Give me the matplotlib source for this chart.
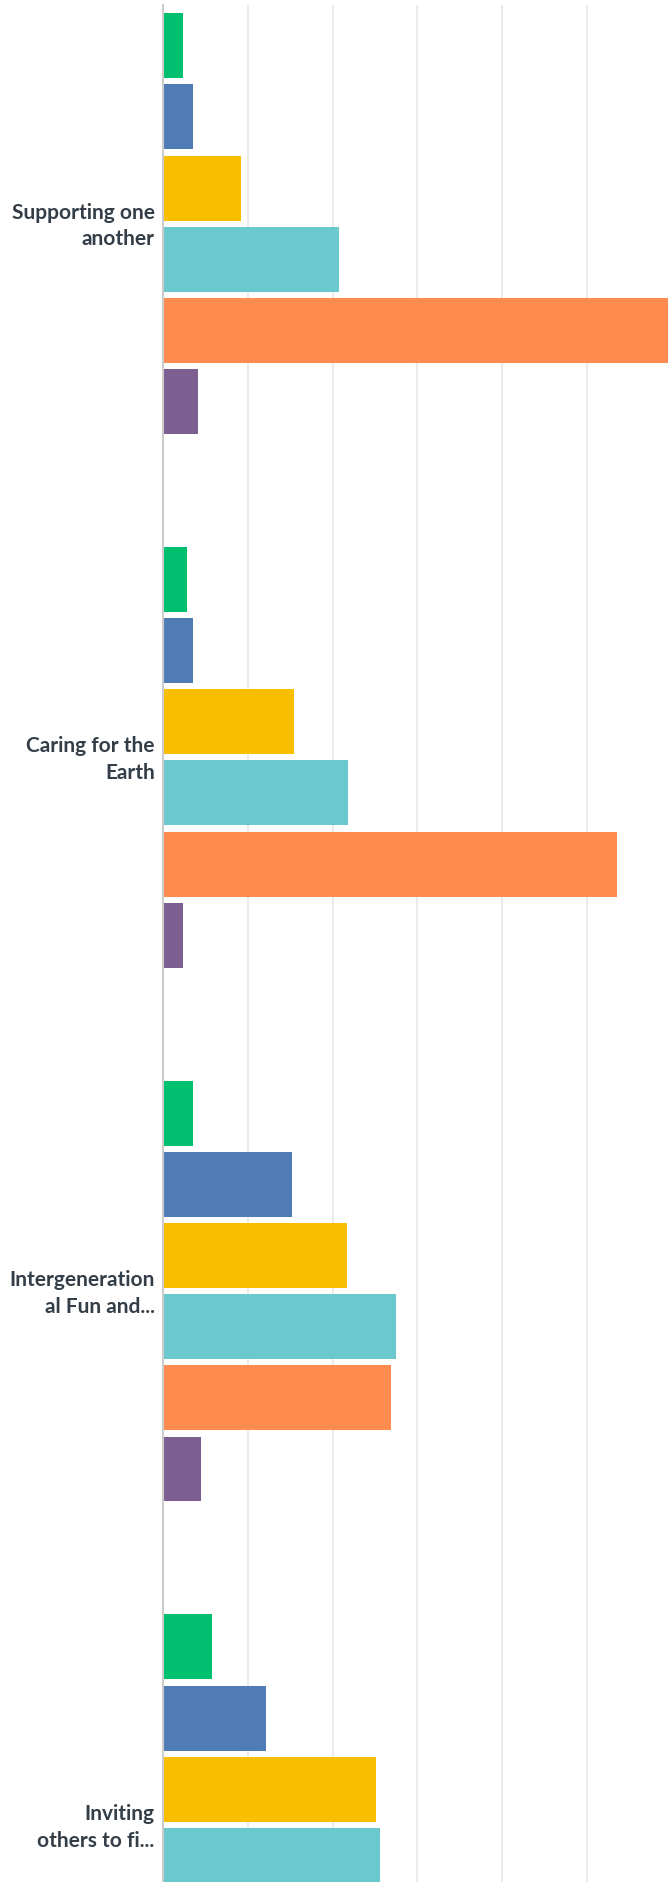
import matplotlib
matplotlib.use("Agg")
import matplotlib.pyplot as plt
import matplotlib.transforms as mtransforms
import numpy as np

categories = ["Supporting one\nanother", "Caring for the\nEarth",
              "Intergeneration\nal Fun and...", "Inviting\nothers to fi..."]
series_names = ["Option 1", "Option 2", "Option 3", "Option 4", "Option 5", "Option 6"]
# percentage values per series (one list per series, in category order)
s1 = [2.3, 2.8, 3.5, 5.8]
s2 = [3.5, 3.5, 15.2, 12.2]
s3 = [9.2, 15.4, 21.7, 25.1]
s4 = [20.7, 21.8, 27.5, 25.6]
s5 = [60.2, 53.5, 26.9, 28.0]
s6 = [4.1, 2.3, 4.5, 3.3]
series = [s1, s2, s3, s4, s5, s6]
colors = ["#00bf6f", "#507cb6", "#f9be00", "#6bc8cd", "#ff8b4f", "#7d5e90"]
xticks = [0, 10, 20, 30, 40, 50, 60, 70, 80, 90, 100]

W, H = 668, 1883
fig = plt.figure(figsize=(W / 100, H / 100), dpi=100)

# layout (pixels)
axis_x = 163
grid_px = 84.8          # px per 10 units
group_px = 533.7
g0_center = 224.7
top_px = 6
ylim_top = (top_px - g0_center) / group_px
ylim_bot = 3.5
bottom_px = g0_center + ylim_bot * group_px
ax = fig.add_axes([axis_x / W, 1 - bottom_px / H,
                   grid_px * 10 / W, (bottom_px - top_px) / H])

n = len(series)
pitch = 0.8 / n
bh = pitch * 0.913
pos = np.arange(len(categories))
for j, (vals, c) in enumerate(zip(series, colors)):
    y = pos - 0.4 + pitch * (j + 0.5)
    ax.barh(y, vals, height=bh, color=c, zorder=3, label=series_names[j])

ax.set_xlim(0, 100)
ax.set_ylim(ylim_bot, ylim_top)
ax.set_xticks(xticks)
ax.set_xticklabels([])
ax.tick_params(axis="x", length=0)
ax.grid(axis="x", color="#ebebeb", linewidth=1.5, zorder=0)
ax.set_yticks(pos)
ax.set_yticklabels(categories, fontsize=15, color="#333e48",
                   family=["Lato", "DejaVu Sans"], fontweight="bold",
                   linespacing=1.42)
ax.tick_params(axis="y", length=0, pad=6)
shift = mtransforms.ScaledTranslation(0, 4 / 100, fig.dpi_scale_trans)
for lbl in ax.get_yticklabels():
    lbl.set_transform(lbl.get_transform() + shift)
for s in ["top", "right", "bottom"]:
    ax.spines[s].set_visible(False)
ax.spines["left"].set_color("#cccccc")
ax.spines["left"].set_linewidth(1.5)
ax.spines["left"].set_zorder(4)

fig.savefig("out.png", dpi=100)
